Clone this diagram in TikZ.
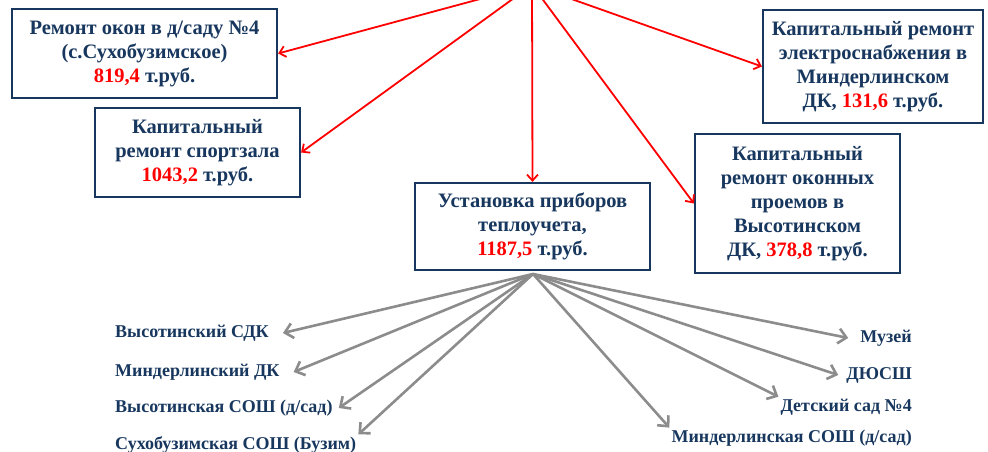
\documentclass[tikz,border=0pt]{standalone}
\usepackage{fontspec}
\setmainfont{Liberation Serif}
\usetikzlibrary{arrows.meta}
\definecolor{navy}{HTML}{17375E}
\definecolor{grarrow}{HTML}{8C8C8C}
\tikzset{
  box/.style={draw=navy, line width=2.2pt, fill=white, align=center, text=navy,
    font=\bfseries\fontsize{20.5}{24}\selectfont, inner sep=2pt},
  lbl/.style={text=navy, font=\bfseries\fontsize{18}{20}\selectfont, inner sep=2pt},
  redarr/.style={draw=red, line width=1.8pt, -{Straight Barb[length=6pt,width=11pt,line width=1.8pt]}},
  grayarr/.style={draw=grarrow, line width=2.6pt, -{Straight Barb[length=8pt,width=15pt,line width=2.6pt]}},
}
\newcommand{\rd}[1]{\textcolor{red}{#1}}
\begin{document}
\begin{tikzpicture}[x=1pt,y=-1pt]
\useasboundingbox (0,0) rectangle (988,452);
\clip (0,0) rectangle (988,452);
\coordinate (top) at (532,-15);
\node[box, minimum width=265pt, minimum height=89pt] (b1) at (144.5,53.5)
  {Ремонт окон в д/саду №4\\(с.Сухобузимское)\\\rd{819,4} т.руб.};
\node[box, minimum width=205pt, minimum height=89pt] (b2) at (197.5,152.5)
  {Капитальный\\ремонт спортзала\\\rd{1043,2} т.руб.};
\node[box, minimum width=235pt, minimum height=87pt] (c) at (532.5,226.5)
  {Установка приборов\\теплоучета,\\\rd{1187,5} т.руб.};
\node[box, minimum width=205pt, minimum height=139pt] (b4) at (797.5,203.5)
  {Капитальный\\ремонт оконных\\проемов в\\Высотинском\\ДК, \rd{378,8} т.руб.};
\node[box, minimum width=220pt, minimum height=113pt] (b5) at (873,66.5)
  {Капитальный ремонт\\электроснабжения в\\Миндерлинском\\ДК, \rd{131,6} т.руб.};

\draw[redarr] (top) -- (b1.east);
\draw[redarr] (top) -- (b2.east);
\draw[redarr] (top) -- (c.north);
\draw[redarr] (top) -- (b4.west);
\draw[redarr] (top) -- (b5.west);

\coordinate (src) at (533,274);
\node[lbl, anchor=west] (l1) at (113,333) {Высотинский СДК};
\node[lbl, anchor=west] (l2) at (113,372) {Миндерлинский ДК};
\node[lbl, anchor=west] (l3) at (113,408) {Высотинская СОШ (д/сад)};
\node[lbl, anchor=west] (l4) at (113,445) {Сухобузимская СОШ (Бузим)};
\node[lbl, anchor=east] (r1) at (914,338) {Музей};
\node[lbl, anchor=east] (r2) at (914,375) {ДЮСШ};
\node[lbl, anchor=east] (r3) at (914,407) {Детский сад №4};
\node[lbl, anchor=east] (r4) at (914,438) {Миндерлинская СОШ (д/сад)};

\draw[grayarr] (src) -- ([xshift=12pt]l1.east);
\draw[grayarr] (src) -- ([xshift=12pt]l2.east);
\draw[grayarr] (src) -- ([xshift=4pt]l3.east);
\draw[grayarr] (src) -- (l4.north east);
\draw[grayarr] (src) -- ([xshift=-10pt]r1.west);
\draw[grayarr] (src) -- ([xshift=-6pt]r2.west);
\draw[grayarr] (src) -- (r3.north west);
\draw[grayarr] (src) -- (r4.north west);
\end{tikzpicture}
\end{document}
